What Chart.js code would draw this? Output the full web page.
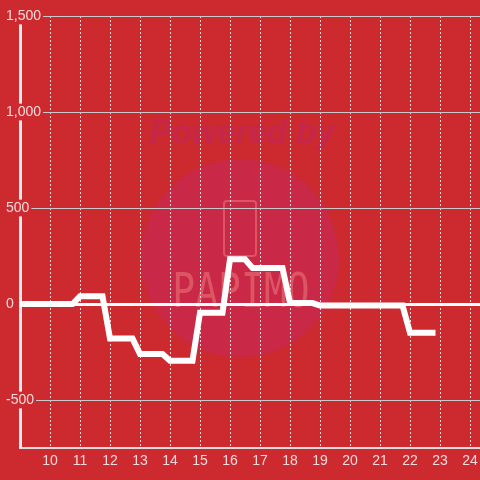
<!DOCTYPE html>
<html>
<head>
<meta charset="utf-8">
<script src="https://cdn.jsdelivr.net/npm/chart.js@4/dist/chart.umd.min.js"></script>
<style>
  html, body { margin: 0; padding: 0; background: #cd2a30; }
  #wrap { width: 480px; height: 480px; }
</style>
</head>
<body>
<div id="wrap"><canvas id="chart"></canvas></div>
<script>
// corner points of the line (hour of day, value)
const hours  = [9, 10.75, 11, 11.75, 12, 12.75, 13, 13.75, 14, 14.75, 15, 15.75, 16, 16.5, 16.75, 17.75, 18, 18.75, 19, 21.75, 22, 22.75];
const values = [0, 0, 40, 40, -180, -180, -260, -260, -295, -295, -45, -45, 233, 233, 188, 188, 5, 5, -8, -8, -150, -150];

const xTicks = [10, 11, 12, 13, 14, 15, 16, 17, 18, 19, 20, 21, 22, 23, 24];
const yTicks = [-750, -500, -250, 0, 250, 500, 750, 1000, 1250, 1500];
const yLabelled = [-500, 0, 500, 1000, 1500];

const bg = "#cd2a30";
const tickColor = "#f4dada";

// faint "Powered by" watermark behind the grid
const watermark = {
  id: "watermark",
  beforeDraw(chart) {
    const ctx = chart.ctx;
    ctx.save();
    ctx.fillStyle = bg;
    ctx.fillRect(0, 0, chart.width, chart.height);

    ctx.fillStyle = "#c92846";
    ctx.beginPath();
    ctx.arc(240, 258, 99, 0, Math.PI * 2);
    ctx.fill();

    ctx.fillStyle = "#c5264a";
    ctx.font = "italic bold 33px 'Liberation Sans'";
    ctx.textAlign = "center";
    ctx.textBaseline = "alphabetic";
    ctx.fillText("Powered by", 242, 143);

    ctx.strokeStyle = "rgba(236,120,128,0.55)";
    ctx.lineWidth = 2;
    ctx.beginPath();
    ctx.roundRect(224, 201, 32, 55, 3);
    ctx.stroke();

    ctx.fillStyle = "rgba(236,120,128,0.55)";
    ctx.translate(241, 307);
    ctx.scale(1, 1.25);
    ctx.font = "38px 'DejaVu Sans Mono'";
    ctx.fillText("PAPIMO", 0, 0);
    ctx.restore();
  }
};

new Chart(document.getElementById("chart"), {
  type: "line",
  data: {
    datasets: [{
      data: hours.map((h, i) => ({ x: h, y: values[i] })),
      borderColor: "#ffffff",
      borderWidth: 6,
      borderCapStyle: "square",
      pointRadius: 0,
      tension: 0,
      fill: false
    }]
  },
  options: {
    responsive: true,
    maintainAspectRatio: false,
    animation: false,
    layout: { padding: { top: 16, right: 0, left: 0, bottom: 0 } },
    plugins: { legend: { display: false }, tooltip: { enabled: false } },
    scales: {
      x: {
        type: "linear",
        min: 9,
        max: 24.333,
        afterBuildTicks: (s) => { s.ticks = xTicks.map((v) => ({ value: v })); },
        afterFit: (s) => { s.height = 32; s.paddingRight = 0; s.paddingLeft = 0; },
        grid: { color: "rgba(235,235,235,0.9)", lineWidth: 1, drawTicks: false },
        border: { display: true, color: "#dcdcdc", width: 2, dash: [2, 2] },
        ticks: {
          color: tickColor,
          padding: 5,
          maxRotation: 0,
          font: { family: "'Liberation Sans'", size: 14 }
        }
      },
      y: {
        min: -750,
        max: 1500,
        afterBuildTicks: (s) => { s.ticks = yTicks.map((v) => ({ value: v })); },
        afterFit: (s) => { s.width = 20; },
        grid: {
          drawTicks: false,
          color: (c) => (c.tick && c.tick.value === 0 ? "#ffffff" : "#c9c9c9"),
          lineWidth: (c) => (c.tick && c.tick.value === 0 ? 3 : 1)
        },
        border: { display: true, color: "#f2eaea", width: 3 },
        ticks: {
          mirror: true,
          padding: -14,
          color: tickColor,
          font: { family: "'Liberation Sans'", size: 14 },
          showLabelBackdrop: true,
          backdropColor: bg,
          backdropPadding: { left: 2, right: 2, top: 0, bottom: 0 },
          callback: (v) => (yLabelled.includes(v) ? v.toLocaleString("en-US") : null)
        }
      }
    }
  },
  plugins: [watermark]
});
</script>
</body>
</html>
